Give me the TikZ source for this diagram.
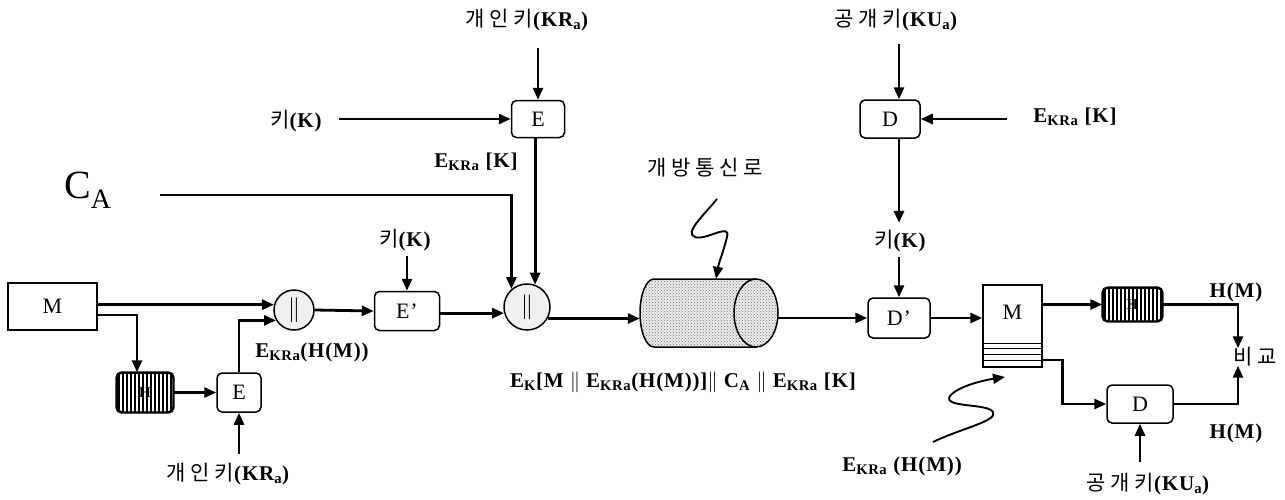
\documentclass[tikz,border=0pt]{standalone}
\usepackage{fontspec}
\setmainfont[LetterSpace=4]{Liberation Serif}
\newfontfamily\kor{Noto Sans CJK KR}
\usetikzlibrary{arrows.meta,patterns}
\newcommand\kt[1]{{\mdseries\kor #1}}
\newcommand\sbs[1]{\textsubscript{#1}}
\newcommand\cylshape{(654,279) -- (756,279)
  arc[start angle=-90,end angle=90,x radius=22,y radius=34] -- (654,347)
  arc[start angle=90,end angle=270,x radius=14,y radius=34] -- cycle}
\begin{document}
\begin{tikzpicture}[x=1pt,y=-1pt,
  font=\bfseries\fontsize{21}{24}\selectfont,
  conn/.style={line width=2.8pt,-{Triangle[length=12pt,width=10pt]}},
  rbox/.style={draw,line width=1.5pt,rounded corners=5pt,inner sep=0pt,font=\mdseries\fontsize{22}{26}\selectfont},
  sbox/.style={draw,line width=1.4pt,inner sep=0pt,font=\mdseries\fontsize{22}{26}\selectfont},
  cat/.style={draw,circle,line width=1.5pt,fill=gray!12,inner sep=0pt,font=\fontsize{28}{30}\selectfont},
  lbl/.style={inner sep=1pt},
  stripe/.style={line width=2pt},
]
\useasboundingbox (0,0) rectangle (1285,499);

% ---------- left part ----------
\node[sbox,minimum width=89pt,minimum height=47pt] (M) at (52.5,306.5) {M};

\node[rbox,minimum width=56pt,minimum height=39pt] (H1) at (145,392.5) {};
\begin{scope}
  \clip[rounded corners=5pt] (H1.north west) rectangle (H1.south east);
  \foreach \i in {0,...,13} \draw[stripe] ({119+\i*4},370) -- ({119+\i*4},415);
\end{scope}
\draw[line width=1.6pt,rounded corners=5pt] (H1.north west) rectangle (H1.south east);
\node[font=\bfseries\fontsize{15}{17}\selectfont,inner sep=0pt] (H1t) at (H1) {H};

\node[rbox,minimum width=44pt,minimum height=39pt] (E1) at (239,392.5) {E};
\node[cat,minimum size=40pt] (c1) at (294,310) {$\|$};
\node[rbox,minimum width=65pt,minimum height=39pt] (Ep) at (407,311) {E’};
\node[cat,minimum size=46pt] (c2) at (527,307) {$\|$};

\node[lbl] (kr1) at (228,474) {\kt{개 인 키}(KR\sbs{a})};
\node[lbl] (ehm1) at (312,352) {E\sbs{KRa}(H(M))};
\node[lbl] (kK2) at (405,240) {\kt{키}(K)};
\node[lbl,font=\mdseries\fontsize{40}{44}\selectfont] (CA) at (88,190) {C\sbs{A}};
\coordinate (caStart) at (160,195);

% ---------- top encryption ----------
\node[rbox,minimum width=53pt,minimum height=37pt] (Et) at (538,119) {E};
\node[lbl] (kr2) at (527,20) {\kt{개 인 키}(KR\sbs{a})};
\node[lbl] (kK1) at (296,121) {\kt{키}(K)};
\node[lbl] (ekk1) at (476,162) {E\sbs{KRa} [K]};

% ---------- channel ----------
\node[inner sep=0pt,minimum width=138pt,minimum height=68pt] (cyl) at (709,313) {};
\fill[gray!14] \cylshape;
\path[pattern=crosshatch dots,pattern color=black!55] \cylshape;
\draw[line width=1.5pt] \cylshape;
\draw[line width=1.5pt] (756,279) arc[start angle=-90,end angle=-270,x radius=22,y radius=34];
\node[lbl] (chan) at (705,168) {\kt{개 방 통 신 로}};
\coordinate (zz1) at (717,199);

\node[lbl] (form) at (683,382) {E\sbs{K}[M $\|$ E\sbs{KRa}(H(M))]$\|$ C\sbs{A} $\|$ E\sbs{KRa} [K]};

% ---------- receiver ----------
\node[rbox,minimum width=62pt,minimum height=40pt] (Dp) at (899,318) {D’};
\node[rbox,minimum width=60pt,minimum height=38pt] (Dt) at (890,119) {D};
\node[lbl] (ku1) at (896,20) {\kt{공 개 키}(KU\sbs{a})};
\node[lbl] (ekk2) at (1075,117) {E\sbs{KRa} [K]};
\node[lbl] (kK3) at (900,241) {\kt{키}(K)};

\node[sbox,minimum width=59pt,minimum height=82pt] (M2) at (1012.5,326) {};
\node[inner sep=0pt,font=\mdseries\fontsize{22}{26}\selectfont] (M2t) at (1012.5,312) {M};
\foreach \yy in {343,348,354,360}
  \draw[line width=1pt] (M2.west |- 0,\yy) -- (M2.east |- 0,\yy);

\node[rbox,minimum width=59pt,minimum height=33pt] (H2) at (1132.5,304.5) {};
\begin{scope}
  \clip[rounded corners=5pt] (H2.north west) rectangle (H2.south east);
  \foreach \i in {0,...,14} \draw[stripe] ({1105+\i*4},285) -- ({1105+\i*4},325);
\end{scope}
\draw[line width=1.6pt,rounded corners=5pt] (H2.north west) rectangle (H2.south east);
\node[font=\bfseries\fontsize{15}{17}\selectfont,inner sep=0pt] (H2t) at (H2) {H};

\node[rbox,minimum width=66pt,minimum height=38pt] (D2) at (1140,404) {D};
\node[lbl] (hm1) at (1236,292) {H(M)};
\node[lbl] (hm2) at (1236,433) {H(M)};
\node[lbl] (cmp) at (1255,357) {\kt{비 교}};
\node[lbl] (ku2) at (1148,484) {\kt{공 개 키}(KU\sbs{a})};
\node[lbl] (ehm2) at (902,466) {E\sbs{KRa} (H(M))};
\coordinate (zz2) at (933,442);
\coordinate (zz2end) at (1005,377);

% ---------- connectors ----------
\draw[conn] (M.east |- c1.165) -- (c1.165);
\draw[conn] ([yshift=-8.5pt]M.east) -| ([xshift=-8pt]H1.north);
\draw[conn] (H1.east) -- (E1.west);
\draw[conn] (E1.north) |- (c1.210);
\draw[conn] ([yshift=8pt]kr1.north -| E1.south) -- (E1.south);
\draw[conn] (c1.east) -- (Ep.west);
\draw[conn] ([yshift=-4pt]kK2.south -| Ep.north) -- (Ep.north);
\draw[conn] (Ep.east |- c2.195) -- (c2.195);
\draw[conn] (caStart) -| (c2.131);
\draw[conn] (Et.south -| c2.70) -- (c2.70);
\draw[conn] ([yshift=-16pt]kr2.south -| Et.north) -- (Et.north);
\draw[conn] ([xshift=16pt]kK1.east |- Et.west) -- (Et.west);
\draw[conn] (c2.-29) -- (c2.-29 -| cyl.west);
\draw[conn,line width=1.9pt] (zz1) .. controls (703,216) and (684,233) .. (695,237)
  .. controls (706,241) and (731,222) .. (727,237)
  .. controls (724,250) and (719,262) .. ([xshift=7pt]cyl.north);
\draw[conn] (cyl.east |- Dp.west) -- (Dp.west);
\draw[conn] ([yshift=-12pt]ku1.south -| Dp.north) -- (Dt.north -| Dp.north);
\draw[conn] (Dt.south -| Dp.north) -- ([yshift=6pt]kK3.north -| Dp.north);
\draw[conn] ([yshift=-4pt]kK3.south -| Dp.north) -- (Dp.north);
\draw[conn] ([xshift=-25pt]ekk2.west |- Dt.east) -- (Dt.east);
\draw[conn] (Dp.east) -- (Dp.east -| M2.west);
\draw[conn] (M2.east |- H2.west) -- (H2.west);
\draw[conn] (H2.east) -| ([xshift=-17pt,yshift=-2pt]cmp.north);
\draw[conn] ([yshift=-34pt]M2.east) -- ++(20,0) |- (D2.west);
\draw[conn] (D2.east) -| ([xshift=-17pt,yshift=2pt]cmp.south);
\draw[conn] ([yshift=10pt]ku2.north -| D2.south) -- (D2.south);
\draw[conn,line width=1.9pt] (zz2) .. controls (962,428) and (998,421) .. (993,412)
  .. controls (988,403) and (942,408) .. (950,396)
  .. controls (958,386) and (985,380) .. (zz2end);
\end{tikzpicture}
\end{document}
